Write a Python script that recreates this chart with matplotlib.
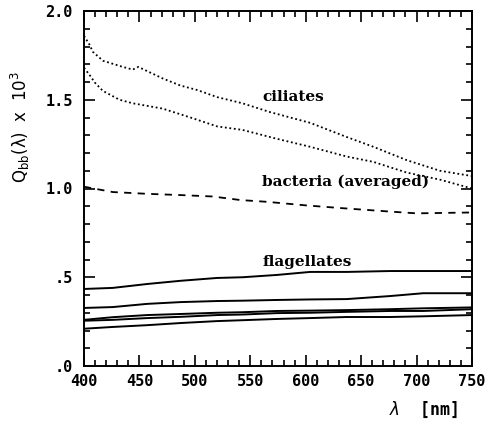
import numpy as np
import matplotlib
matplotlib.use('Agg')
import matplotlib.pyplot as plt
from matplotlib.ticker import MultipleLocator, FixedLocator, FixedFormatter

# ciliates (two spectra, dotted)
cil1_nm = [400, 405, 408, 417, 435, 444, 449, 471, 487, 502, 520, 543, 568, 604, 637, 661, 691, 721, 750]
cil1_q = [1.86, 1.81, 1.77, 1.72, 1.685, 1.67, 1.685, 1.62, 1.58, 1.555, 1.515, 1.48, 1.43, 1.37, 1.29, 1.235, 1.16, 1.10, 1.07]
cil2_nm = [400, 405, 410, 417, 432, 444, 471, 496, 520, 543, 574, 604, 637, 661, 691, 721, 750]
cil2_q = [1.68, 1.64, 1.595, 1.55, 1.50, 1.48, 1.45, 1.40, 1.35, 1.33, 1.28, 1.235, 1.18, 1.15, 1.09, 1.05, 1.00]

# bacteria (averaged, dashed)
bac_nm = [400, 426, 457, 487, 516, 541, 565, 600, 631, 676, 700, 750]
bac_q = [1.01, 0.98, 0.97, 0.963, 0.955, 0.935, 0.925, 0.905, 0.89, 0.87, 0.86, 0.865]

# flagellates (five spectra, solid)
fl_nm = [400, 426, 457, 487, 520, 543, 574, 604, 637, 676, 706, 750]
fl_a = [0.434, 0.44, 0.462, 0.48, 0.496, 0.50, 0.513, 0.53, 0.53, 0.535, 0.535, 0.535]
fl_b = [0.327, 0.332, 0.35, 0.36, 0.366, 0.368, 0.372, 0.375, 0.377, 0.394, 0.41, 0.41]
fl_c = [0.26, 0.275, 0.287, 0.293, 0.30, 0.303, 0.31, 0.312, 0.315, 0.32, 0.325, 0.33]
fl_d = [0.255, 0.26, 0.27, 0.277, 0.287, 0.29, 0.298, 0.30, 0.305, 0.31, 0.31, 0.32]
fl_e = [0.21, 0.22, 0.23, 0.242, 0.253, 0.258, 0.265, 0.27, 0.276, 0.276, 0.28, 0.287]

x_ticks = [400, 450, 500, 550, 600, 650, 700, 750]
y_ticks = [0.0, 0.5, 1.0, 1.5, 2.0]
y_tick_labels = ['.0', '.5', '1.0', '1.5', '2.0']

fig = plt.figure(figsize=(4.9, 4.21), dpi=100)
ax = fig.add_axes([84 / 490, 1 - 366 / 421, 388 / 490, 355 / 421])

ax.plot(cil1_nm, cil1_q, color='black', lw=1.3, ls=(0, (1, 1.5)))
ax.plot(cil2_nm, cil2_q, color='black', lw=1.3, ls=(0, (1, 1.5)))
ax.plot(bac_nm, bac_q, color='black', lw=1.3, ls=(0, (4, 3.5)))
for q in [fl_a, fl_b, fl_c, fl_d, fl_e]:
    ax.plot(fl_nm, q, color='black', lw=1.4)

ax.set_xlim(400, 750)
ax.set_ylim(0, 2.0)

ax.xaxis.set_major_locator(FixedLocator(x_ticks))
ax.xaxis.set_minor_locator(MultipleLocator(10))
ax.yaxis.set_major_locator(FixedLocator(y_ticks))
ax.yaxis.set_major_formatter(FixedFormatter(y_tick_labels))
ax.yaxis.set_minor_locator(MultipleLocator(0.1))
ax.tick_params(which='both', direction='in', top=True, right=True, width=1.2, color='black')
ax.tick_params(which='major', length=8)
ax.tick_params(axis='x', which='major', pad=6)
ax.tick_params(axis='y', which='major', pad=8)
ax.tick_params(which='minor', length=4)
for lab in ax.get_xticklabels() + ax.get_yticklabels():
    lab.set_family('DejaVu Sans Mono')
    lab.set_weight('bold')
    lab.set_fontsize(11)
for s in ax.spines.values():
    s.set_linewidth(1.4)

tfont = dict(family='DejaVu Serif', weight='bold', fontsize=11, va='center', ha='left')
ax.text(561, 1.515, 'ciliates', **tfont)
ax.text(561, 1.037, 'bacteria (averaged)', **tfont)
ax.text(561, 0.586, 'flagellates', **tfont)

fig.text(20 / 490, 1 - 127 / 421, r'$\mathrm{Q_{bb}(\lambda)}$  x  $\mathrm{10^3}$',
         rotation=90, ha='center', va='center', fontsize=12, family='DejaVu Sans')
fig.text(424 / 490, 1 - 410 / 421, r'$\lambda$  [nm]', ha='center', va='center',
         fontsize=12, family='DejaVu Sans Mono', weight='bold')

fig.savefig('out.png', dpi=100)
